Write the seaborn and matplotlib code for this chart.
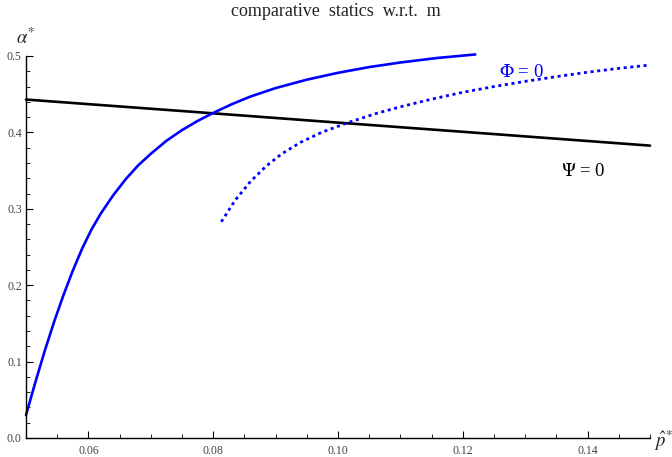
import matplotlib
matplotlib.use("Agg")
import matplotlib.pyplot as plt
import seaborn as sns
import pandas as pd
from matplotlib.ticker import MultipleLocator, FixedLocator, FormatStrFormatter

# --- data ---
psi_x = [0.05, 0.0778, 0.10, 0.125, 0.15]
psi_y = [0.443, 0.4263, 0.4128, 0.3978, 0.3827]

phi_solid_x = [0.0500, 0.0515, 0.0530, 0.0545, 0.0560, 0.0575, 0.0590, 0.0605,
               0.0620, 0.0640, 0.0660, 0.0680, 0.0700, 0.0725, 0.0750, 0.0775,
               0.0800, 0.0830, 0.0860, 0.0900, 0.0950, 0.1000, 0.1050, 0.1100,
               0.1160, 0.1220]
phi_solid_y = [0.030, 0.073, 0.114, 0.152, 0.187, 0.219, 0.248, 0.273,
               0.294, 0.318, 0.339, 0.357, 0.372, 0.389, 0.403, 0.415,
               0.4255, 0.437, 0.447, 0.458, 0.469, 0.478, 0.4855, 0.4915,
               0.4975, 0.502]

phi_dot_x = [0.0813, 0.0835, 0.0860, 0.0885, 0.0910, 0.0940, 0.0975, 0.1015,
             0.1060, 0.1100, 0.1150, 0.1200, 0.1250, 0.1300, 0.1350, 0.1400,
             0.1450, 0.1498]
phi_dot_y = [0.283, 0.311, 0.336, 0.356, 0.372, 0.387, 0.4005, 0.4125,
             0.4245, 0.4335, 0.4435, 0.4525, 0.460, 0.4668, 0.4730, 0.4788,
             0.4838, 0.4880]

x_ticks = [0.06, 0.08, 0.10, 0.12, 0.14]
y_ticks = [0.0, 0.1, 0.2, 0.3, 0.4, 0.5]

sns.set_style("ticks")
plt.rcParams['font.family'] = ['Liberation Serif', 'DejaVu Serif']
plt.rcParams['mathtext.fontset'] = 'stix'

fig = plt.figure(figsize=(6.72, 4.57), dpi=100)
ax = fig.add_axes([26 / 672, 19 / 457, 624 / 672, 382 / 457])

df_psi = pd.DataFrame({"x": psi_x, "y": psi_y})
df_s = pd.DataFrame({"x": phi_solid_x, "y": phi_solid_y})
df_d = pd.DataFrame({"x": phi_dot_x, "y": phi_dot_y})

sns.lineplot(data=df_psi, x="x", y="y", ax=ax, color="black", lw=1.9, sort=False, clip_on=False)
sns.lineplot(data=df_s, x="x", y="y", ax=ax, color=(0, 0, 1), lw=1.9, sort=False, clip_on=False)
sns.lineplot(data=df_d, x="x", y="y", ax=ax, color=(0, 0, 1), lw=2.0, sort=False,
             linestyle=(0, (1.1, 1.3)), clip_on=False)

ax.set_xlim(0.05, 0.15)
ax.set_ylim(0.0, 0.5)
ax.set_xlabel("")
ax.set_ylabel("")

for s in ["top", "right"]:
    ax.spines[s].set_visible(False)
for s in ["left", "bottom"]:
    ax.spines[s].set_linewidth(1.0)
    ax.spines[s].set_color("black")

ax.xaxis.set_major_locator(FixedLocator(x_ticks))
ax.xaxis.set_minor_locator(MultipleLocator(0.005))
ax.yaxis.set_major_locator(FixedLocator(y_ticks))
ax.yaxis.set_minor_locator(MultipleLocator(0.02))
ax.xaxis.set_major_formatter(FormatStrFormatter("%.2f"))
ax.yaxis.set_major_formatter(FormatStrFormatter("%.1f"))

ax.tick_params(which="major", direction="in", length=5, width=0.8, labelsize=8.5,
               labelcolor="#444444", color="black", pad=5)
ax.tick_params(which="minor", direction="in", length=3, width=0.6, color="black")
ax.tick_params(axis="y", which="major", pad=3)

ax.text(0.1258, 0.479, r"$\Phi$ = 0", color=(0, 0, 1), fontsize=13.5, ha="left", va="center")
ax.text(0.1358, 0.3486, r"$\Psi$ = 0", color="black", fontsize=13.5, ha="left", va="center")

fig.text(336 / 672, 1 - 12 / 457, "comparative  statics  w.r.t.  m", ha="center", va="center",
         fontsize=13, color="#222222")
fig.text(26 / 672, 1 - 38 / 457, r"$\alpha^{*}$", ha="center", va="center", fontsize=13.5)
fig.text(663 / 672, 1 - 441 / 457, r"$\hat{p}^{*}$", ha="center", va="center", fontsize=13.5)

fig.savefig("out.png", dpi=100)
